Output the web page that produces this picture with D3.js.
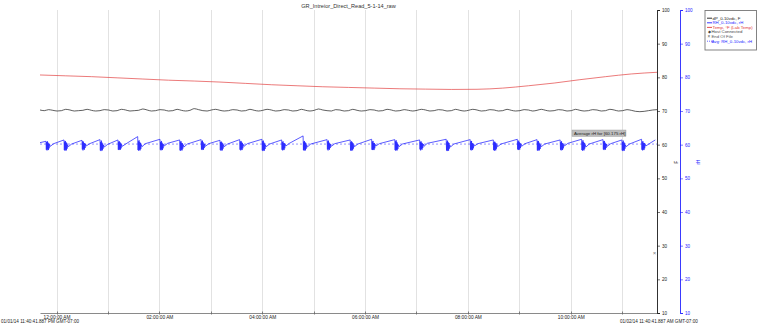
<!DOCTYPE html>
<html><head><meta charset="utf-8">
<script src="https://cdn.jsdelivr.net/npm/d3@7"></script>
<style>
body{margin:0;background:#fff;}
text{font-family:"Liberation Sans",Arial,sans-serif;}
</style></head>
<body><svg id="c" width="761" height="327"></svg>
<script>
// ---------------- DATA ----------------
const chartTitle = "GR_Intreior_Direct_Read_5-1-14_raw";
const startLabel = "01/01/14 11:40:41.887 PM GMT-07:00";
const endLabel = "01/02/14 11:40:41.887 AM GMT-07:00";
const startMs = Date.UTC(2014, 0, 1, 23, 40, 41, 887);
const spanMinutes = 720;

const legendLabels = ["dP_0-10vdc, F", "RH_0-10vdc, rH", "Temp, °F (Lab Temp)", "Host Connected", "End Of File", "Avg: RH_0-10vdc, rH"];
const yTickValues = [10, 20, 30, 40, 50, 60, 70, 80, 90, 100];
const avgRH = 60.175;
const avgLabel = "Average rH for [60.175 rH]";

// Temperature every 30 minutes from start
const tempMinutes = [0,30,60,90,120,150,180,210,240,270,300,330,360,390,420,450,480,510,540,570,600,630,660,690,720];
const tempValues = [80.7,80.45,80.2,79.85,79.5,79.15,78.9,78.6,78.2,77.8,77.5,77.2,77.0,76.8,76.6,76.5,76.4,76.45,76.8,77.5,78.3,79.3,80.2,81.0,81.5];

// dP every 5 minutes from start
const dpValues = [
70.3,70.1,70.4,70.2,70.0,70.1,70.5,70.3,70.0,70.1,70.2,70.5,70.2,70.0,70.1,70.4,70.3,70.0,70.1,70.5,70.3,70.0,70.1,70.2,70.6,70.3,70.0,70.1,70.4,70.3,
70.0,70.1,70.5,70.2,70.0,70.2,70.7,70.4,70.1,70.0,70.3,70.5,70.2,70.0,70.1,70.4,70.3,70.0,70.1,70.5,70.2,70.0,70.2,70.5,70.3,70.0,70.1,70.4,70.3,70.0,
70.1,70.5,70.2,70.0,70.2,70.6,70.3,70.1,70.0,70.4,70.3,70.0,70.1,70.5,70.2,70.0,70.1,70.4,70.3,70.0,70.1,70.5,70.3,70.0,70.1,70.4,70.2,70.0,70.2,70.5,
70.3,70.0,70.1,70.4,70.3,70.0,70.1,70.5,70.2,70.0,70.2,70.5,70.3,70.0,70.1,70.4,70.3,70.0,70.1,70.5,70.2,70.0,70.1,70.4,70.3,70.0,70.2,70.5,70.2,70.0,
70.1,70.4,70.3,70.0,70.1,70.5,70.2,70.0,70.1,70.4,70.3,70.0,70.1,70.5,70.3,70.0,70.1,70.4,70.2,69.9,69.8,69.9,70.1,70.3,70.4];
const dpStepMinutes = 5;

// RH: cycle peak times (minutes from start), sample offsets within a cycle, and per-cycle values
const rhCycleStarts = [7,28,49,70,91,114,140,163,188,210,233,259,282,307,335,362,387,414,443,474,502,529,557,580,607,632,657,679,702];
const rhOffsets = [0,0.4,0.8,1.2,1.6,2.0,2.4,2.8,3.2,3.6,4.2,5.0,9.0];
const rhCycleValues = [
[61.0,58.5,60.8,58.3,61.0,58.6,60.6,58.4,60.3,58.9,60.1,59.5,60.3],
[61.4,58.4,60.9,58.2,61.1,58.5,60.7,58.3,60.5,58.8,60.0,59.4,60.2],
[61.3,58.6,61.0,58.3,60.9,58.7,60.5,58.5,60.4,59.0,60.2,59.6,60.3],
[61.5,58.3,60.8,58.1,61.2,58.5,60.6,58.3,60.3,58.8,59.9,59.3,60.1],
[61.4,58.5,60.9,58.4,61.0,58.6,60.7,58.5,60.4,58.9,60.1,59.5,60.2],
[62.4,58.4,61.0,58.2,61.3,58.5,60.8,58.3,60.5,58.7,60.0,59.4,60.3],
[61.6,58.5,60.8,58.3,61.1,58.6,60.6,58.4,60.3,58.9,60.1,59.6,60.4],
[61.4,58.3,60.9,58.2,61.0,58.5,60.5,58.3,60.4,58.8,60.0,59.3,60.2],
[61.5,58.6,61.0,58.4,61.2,58.7,60.7,58.5,60.3,59.0,60.2,59.5,60.3],
[61.3,58.4,60.8,58.2,60.9,58.5,60.6,58.3,60.4,58.8,60.0,59.4,60.2],
[61.5,58.5,60.9,58.3,61.1,58.6,60.7,58.4,60.5,58.9,60.1,59.5,60.3],
[61.6,58.3,61.0,58.1,61.2,58.4,60.6,58.2,60.3,58.7,59.9,59.4,60.2],
[61.4,58.5,60.8,58.3,61.0,58.6,60.5,58.4,60.4,58.9,60.1,59.6,60.4],
[62.6,58.4,60.9,58.2,61.1,58.5,60.7,58.3,60.5,58.8,60.0,59.3,60.2],
[61.5,58.6,61.0,58.3,61.2,58.7,60.6,58.5,60.3,59.0,60.2,59.5,60.3],
[61.4,58.3,60.8,58.2,61.0,58.5,60.7,58.3,60.4,58.8,60.0,59.4,60.2],
[61.6,58.5,60.9,58.4,61.1,58.6,60.5,58.4,60.5,58.9,60.1,59.6,60.3],
[61.5,58.4,61.0,58.2,61.3,58.5,60.8,58.3,60.3,58.7,60.0,59.4,60.2],
[61.4,58.6,60.8,58.3,61.0,58.7,60.6,58.5,60.4,59.0,60.2,59.5,60.4],
[61.6,58.3,60.9,58.1,61.2,58.4,60.7,58.2,60.5,58.8,59.9,59.3,60.2],
[61.5,58.5,61.0,58.3,61.1,58.6,60.5,58.4,60.3,58.9,60.1,59.6,60.3],
[61.4,58.4,60.8,58.2,60.9,58.5,60.6,58.3,60.4,58.8,60.0,59.4,60.2],
[61.6,58.6,60.9,58.4,61.2,58.7,60.7,58.5,60.5,59.0,60.2,59.5,60.3],
[61.5,58.3,61.0,58.2,61.1,58.5,60.6,58.3,60.3,58.7,60.0,59.4,60.2],
[61.4,58.5,60.8,58.3,61.0,58.6,60.5,58.4,60.4,58.9,60.1,59.6,60.4],
[61.6,58.4,60.9,58.2,61.3,58.5,60.8,58.3,60.5,58.8,60.0,59.3,60.2],
[61.5,58.6,61.0,58.4,61.1,58.7,60.6,58.5,60.3,59.0,60.2,59.5,60.3],
[61.4,58.3,60.8,58.1,61.2,58.4,60.7,58.2,60.4,58.8,59.9,59.4,60.2],
[61.6,58.5,60.9,58.3,61.0,58.6,60.5,58.4,60.5,58.9,60.1,59.6,60.3]];
const rhEdgeMinutes = [0, 718];
const rhEdgeValues = [60.6, 61.4];
const eofMinute = 717;
const eofValue = 27.8;

// ---------------- CHART ----------------
const svg = d3.select("#c");
const plot = {left: 40, right: 657, top: 10, bottom: 313};
const toDate = m => new Date(startMs + m * 60000);

const x = d3.scaleUtc().domain([toDate(0), toDate(spanMinutes)]).range([plot.left, plot.right]);
const y = d3.scaleLinear().domain([10, 100]).range([plot.bottom, plot.top]);

const black = "#1a1a1a", blue = "#2424ff", red = "#e23a3a";
const px = v => Math.round(v) + 0.5;

// title
svg.append("text").attr("x", (plot.left + plot.right) / 2).attr("y", 8)
  .attr("text-anchor", "middle").attr("font-size", 5.6).attr("fill", "#333").text(chartTitle);

// vertical grid (hourly)
const hours = d3.utcHour.range(toDate(0), toDate(spanMinutes));
svg.append("g").selectAll("line").data(hours).join("line")
  .attr("x1", d => px(x(d))).attr("x2", d => px(x(d)))
  .attr("y1", plot.top).attr("y2", plot.bottom)
  .attr("stroke", "#e2e2e2").attr("stroke-width", 1);

// bottom axis
const gx = svg.append("g").attr("transform", `translate(0,${plot.bottom})`)
  .call(d3.axisBottom(x).ticks(d3.utcHour.every(2)).tickFormat(d3.utcFormat("%I:%M:%S %p")).tickSize(0).tickPadding(3));
gx.select(".domain").attr("stroke", "#8a8a8a").attr("stroke-width", 1.2);
gx.selectAll("text").attr("font-size", 4.8).attr("fill", "#222").attr("font-family", "Liberation Sans, Arial");
svg.append("g").selectAll("line").data(hours).join("line")
  .attr("x1", d => px(x(d))).attr("x2", d => px(x(d)))
  .attr("y1", plot.bottom - 1.5).attr("y2", plot.bottom + 1.5)
  .attr("stroke", "#666").attr("stroke-width", 0.8);

svg.append("text").attr("x", 1).attr("y", 323).attr("font-size", 4.6).attr("fill", "#222").text(startLabel);
svg.append("text").attr("x", 620).attr("y", 323).attr("font-size", 4.6).attr("fill", "#222").text(endLabel);

// right axes
function rightAxis(xpos, color, title, titleX) {
  const g = svg.append("g").attr("transform", `translate(${xpos},0)`);
  g.call(d3.axisRight(y).tickValues(d3.range(10, 101, 1)).tickSize(2).tickFormat(""));
  g.call(d3.axisRight(y).tickValues(yTickValues).tickSize(3).tickPadding(2).tickFormat(d3.format("d")));
  g.selectAll(".domain").attr("stroke", color).attr("stroke-width", 0.9);
  g.selectAll("line").attr("stroke", color).attr("stroke-width", 0.6);
  g.selectAll("text").attr("font-size", 4.6).attr("fill", color).attr("font-family", "Liberation Sans, Arial");
  svg.append("text").attr("transform", `translate(${titleX},162) rotate(-90)`)
    .attr("text-anchor", "middle").attr("font-size", 4.6).attr("fill", color).text(title);
}
rightAxis(plot.right, black, "F", 678);
rightAxis(680, blue, "rH", 700);

// lines
const tempData = tempMinutes.map((m, i) => [toDate(m), tempValues[i]]);
const curveLine = d3.line().x(d => x(d[0])).y(d => y(d[1])).curve(d3.curveMonotoneX);
svg.append("path").attr("d", curveLine(tempData))
  .attr("fill", "none").attr("stroke", red).attr("stroke-width", 0.8).attr("opacity", 0.85);

const dpData = dpValues.map((v, i) => [toDate(i * dpStepMinutes), v]);
svg.append("path").attr("d", curveLine(dpData))
  .attr("fill", "none").attr("stroke", black).attr("stroke-width", 0.7);

const rhData = [[toDate(rhEdgeMinutes[0]), rhEdgeValues[0]]];
rhCycleStarts.forEach((s, ci) => {
  rhOffsets.forEach((o, k) => rhData.push([toDate(s + o), rhCycleValues[ci][k]]));
});
rhData.push([toDate(rhEdgeMinutes[1]), rhEdgeValues[1]]);
const lineLin = d3.line().x(d => x(d[0])).y(d => y(d[1]));
svg.append("path").attr("d", lineLin(rhData))
  .attr("fill", "none").attr("stroke", blue).attr("stroke-width", 0.75);

// average dashed line
svg.append("line").attr("x1", x(toDate(0))).attr("x2", x(toDate(spanMinutes)))
  .attr("y1", y(avgRH)).attr("y2", y(avgRH))
  .attr("stroke", blue).attr("stroke-width", 0.5).attr("stroke-dasharray", "2,2");

// average label
const lblX = 572, lblY = 130;
svg.append("rect").attr("x", lblX).attr("y", lblY).attr("width", 54).attr("height", 6.5)
  .attr("fill", "#bdbdbd").attr("stroke", "#999").attr("stroke-width", 0.4);
svg.append("text").attr("x", lblX + 2).attr("y", lblY + 4.8).attr("font-size", 4.4).attr("fill", "#222").text(avgLabel);

// end of file marker
svg.append("text").attr("x", x(toDate(eofMinute))).attr("y", y(eofValue) + 2).attr("text-anchor", "middle")
  .attr("font-size", 6).attr("fill", "#777").text("×");

// legend
const lg = svg.append("g");
lg.append("rect").attr("x", 705).attr("y", 10.5).attr("width", 51.5).attr("height", 39.5)
  .attr("fill", "#fff").attr("stroke", "#777").attr("stroke-width", 0.9);
const legColors = [black, blue, red, "#444", "#555", blue];
legendLabels.forEach((t, i) => {
  const yy = 19.5 + i * 4.6;
  const c = legColors[i];
  if (i < 3) {
    lg.append("line").attr("x1", 707).attr("x2", 712).attr("y1", yy - 1.3).attr("y2", yy - 1.3).attr("stroke", c).attr("stroke-width", 0.9);
  } else if (i === 3) {
    lg.append("text").attr("x", 709).attr("y", yy).attr("text-anchor", "middle").attr("font-size", 4.4).attr("fill", c).text("◆");
  } else if (i === 4) {
    lg.append("text").attr("x", 709).attr("y", yy).attr("text-anchor", "middle").attr("font-size", 4.8).attr("fill", c).text("×");
  } else {
    lg.append("line").attr("x1", 707).attr("x2", 712).attr("y1", yy - 1.3).attr("y2", yy - 1.3).attr("stroke", c).attr("stroke-width", 0.7).attr("stroke-dasharray", "1,1");
  }
  lg.append("text").attr("x", i < 3 ? 712.5 : 711.5).attr("y", yy).attr("font-size", 4.3).attr("fill", c).text(t);
});
</script></body></html>
